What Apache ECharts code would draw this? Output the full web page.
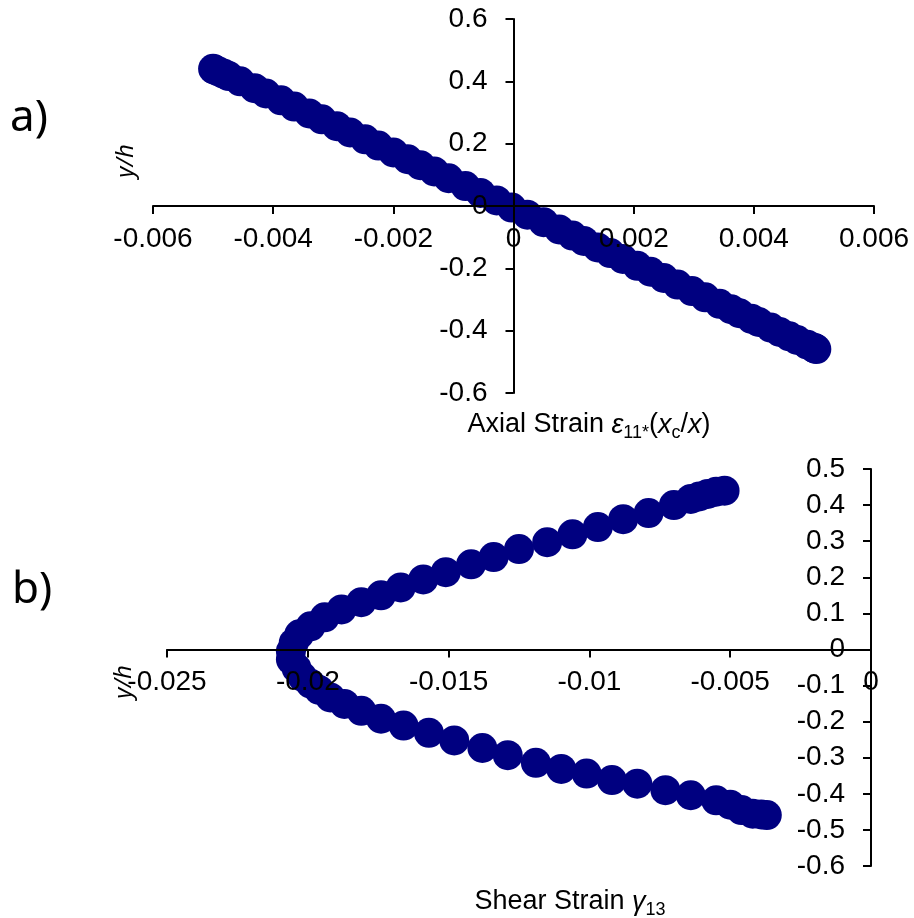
<!DOCTYPE html>
<html>
<head>
<meta charset="utf-8">
<script src="https://cdn.jsdelivr.net/npm/echarts@6/dist/echarts.min.js"></script>
<style>
  html, body { margin: 0; padding: 0; background: #fff; }
  #chart { width: 914px; height: 918px; }
</style>
</head>
<body>
<div id="chart"></div>
<script>
// Normalised through-thickness position y/h, shared by both panels
const yh = [
  0.440, 0.437, 0.431, 0.424, 0.417, 0.400, 0.378, 0.361, 0.339, 0.319,
  0.297, 0.278, 0.256, 0.236, 0.214, 0.194, 0.172, 0.150, 0.131, 0.111,
  0.089, 0.064, 0.042, 0.018, -0.005, -0.028, -0.052, -0.075, -0.095, -0.112,
  -0.133, -0.151, -0.170, -0.192, -0.211, -0.231, -0.252, -0.273, -0.293, -0.314,
  -0.331, -0.344, -0.362, -0.372, -0.390, -0.404, -0.418, -0.430, -0.445, -0.455,
  -0.457, -0.459
];

// Panel a) axial strain eps11 * (xc / x)
const axialStrain = [
  -0.00500, -0.00497, -0.00490, -0.00482, -0.00474, -0.00455, -0.00431, -0.00412, -0.00387, -0.00365,
  -0.00340, -0.00319, -0.00294, -0.00272, -0.00247, -0.00225, -0.00200, -0.00176, -0.00155, -0.00132,
  -0.00108, -0.00080, -0.00055, -0.00028, -0.00003, 0.00023, 0.00050, 0.00076, 0.00098, 0.00117,
  0.00140, 0.00161, 0.00182, 0.00206, 0.00228, 0.00250, 0.00273, 0.00297, 0.00319, 0.00343,
  0.00362, 0.00376, 0.00396, 0.00408, 0.00428, 0.00443, 0.00459, 0.00472, 0.00489, 0.00500,
  0.00502, 0.00504
];

// Panel b) shear strain gamma13
const shearStrain = [
  -0.0052, -0.0055, -0.0058, -0.0061, -0.0064, -0.0070, -0.0079, -0.0088, -0.0097, -0.0106,
  -0.0115, -0.0125, -0.0134, -0.0142, -0.0151, -0.0159, -0.0167, -0.0174, -0.0181, -0.0188,
  -0.0194, -0.0199, -0.0203, -0.0205, -0.0206, -0.0206, -0.0204, -0.0202, -0.0199, -0.0196,
  -0.0192, -0.0187, -0.0181, -0.0174, -0.0166, -0.0157, -0.0148, -0.0138, -0.0129, -0.0119,
  -0.0110, -0.0101, -0.0092, -0.0083, -0.0073, -0.0064, -0.0055, -0.0050, -0.0046, -0.0042,
  -0.0039, -0.0037
];

// Tick labels
const axialTicks = ['-0.006', '-0.004', '-0.002', '0', '0.002', '0.004', '0.006'];
const axialYTicks = ['-0.6', '-0.4', '-0.2', '0', '0.2', '0.4', '0.6'];
const shearTicks = ['-0.025', '-0.02', '-0.015', '-0.01', '-0.005', '0'];
const shearYTicks = ['-0.6', '-0.5', '-0.4', '-0.3', '-0.2', '-0.1', '0', '0.1', '0.2', '0.3', '0.4', '0.5'];

const NAVY = '#000080';
const TICK_FONT = 'Liberation Sans';

// Plot boxes of the two panels
const boxA = { left: 153, top: 19, width: 721, height: 374 };
const boxB = { left: 167, top: 469, width: 704, height: 397 };

// Axes cross at zero: shift each axis inward from the plot edge to the zero line
const axA = { xMin: -0.006, xMax: 0.006, yMin: -0.6, yMax: 0.6 };
const axB = { xMin: -0.025, xMax: 0, yMin: -0.6, yMax: 0.5 };
function zeroOffsets(box, ax) {
  const zy = box.height * (0 - ax.yMin) / (ax.yMax - ax.yMin);
  const zx = box.width * (0 - ax.xMin) / (ax.xMax - ax.xMin);
  return { x: -zy, y: -zx };
}
const offA = zeroOffsets(boxA, axA);
const offB = zeroOffsets(boxB, axB);

function axisCommon(extra) {
  return Object.assign({
    type: 'value',
    z: 3,
    splitLine: { show: false },
    axisLine: { onZero: false, lineStyle: { color: '#000', width: 2 } },
    axisTick: { length: 8, lineStyle: { color: '#000', width: 2 } }
  }, extra);
}

function tickLabel(list, margin) {
  return {
    fontSize: 28,
    color: '#000',
    fontFamily: TICK_FONT,
    margin: margin,
    formatter: (v, i) => list[i]
  };
}

const chart = echarts.init(document.getElementById('chart'));

const subStyle = { fontSize: 18, lineHeight: 18, padding: [16, 0, 0, 0], fontFamily: TICK_FONT, fill: '#000' };
const normStyle = { fontSize: 27, lineHeight: 34, fontFamily: TICK_FONT, fill: '#000' };
const italStyle = { fontSize: 27, lineHeight: 34, fontFamily: TICK_FONT, fontStyle: 'italic', fill: '#000' };

chart.setOption({
  animation: false,
  backgroundColor: '#fff',
  grid: [
    Object.assign({ containLabel: false }, boxA),
    Object.assign({ containLabel: false }, boxB)
  ],
  xAxis: [
    axisCommon({ gridIndex: 0, position: 'bottom', offset: offA.x, min: axA.xMin, max: axA.xMax, interval: 0.002, axisLabel: tickLabel(axialTicks, 19) }),
    axisCommon({ gridIndex: 1, position: 'bottom', offset: offB.x, min: axB.xMin, max: axB.xMax, interval: 0.005, axisLabel: tickLabel(shearTicks, 19) })
  ],
  yAxis: [
    axisCommon({ gridIndex: 0, position: 'left', offset: offA.y, min: axA.yMin, max: axA.yMax, interval: 0.2, axisLabel: tickLabel(axialYTicks, 26) }),
    axisCommon({ gridIndex: 1, position: 'left', offset: offB.y, min: axB.yMin, max: axB.yMax, interval: 0.1, axisLabel: tickLabel(shearYTicks, 26) })
  ],
  series: [
    {
      type: 'scatter',
      xAxisIndex: 0, yAxisIndex: 0,
      symbol: 'circle', symbolSize: 30,
      itemStyle: { color: NAVY, opacity: 1 },
      data: yh.map((y, i) => [axialStrain[i], y])
    },
    {
      type: 'scatter',
      xAxisIndex: 1, yAxisIndex: 1,
      symbol: 'circle', symbolSize: 30,
      itemStyle: { color: NAVY, opacity: 1 },
      data: yh.map((y, i) => [shearStrain[i], y])
    }
  ],
  graphic: [
    { type: 'text', x: 10, y: 118, style: { text: 'a)', fontSize: 44, fontFamily: 'Noto Sans', fill: '#000', verticalAlign: 'middle' } },
    { type: 'text', x: 12, y: 590, style: { text: 'b)', fontSize: 44, fontFamily: 'Noto Sans', fill: '#000', verticalAlign: 'middle' } },
    { type: 'text', x: 126, y: 161, rotation: Math.PI / 2,
      style: { text: 'y/h', fontSize: 24, fontStyle: 'italic', fontFamily: 'Noto Sans', fill: '#000', align: 'center', verticalAlign: 'middle' } },
    { type: 'text', x: 124, y: 682, rotation: Math.PI / 2,
      style: { text: 'y/h', fontSize: 24, fontStyle: 'italic', fontFamily: 'Noto Sans', fill: '#000', align: 'center', verticalAlign: 'middle' } },
    { type: 'text', x: 589, y: 425,
      style: {
        text: '{n|Axial Strain }{i|ε}{s|11*}{n|(}{i|x}{s|c}{n|/}{i|x}{n|)}',
        align: 'center', verticalAlign: 'middle',
        rich: { n: normStyle, i: italStyle, s: subStyle }
      } },
    { type: 'text', x: 570, y: 902,
      style: {
        text: '{n|Shear Strain }{i|γ}{s|13}',
        align: 'center', verticalAlign: 'middle',
        rich: { n: normStyle, i: italStyle, s: subStyle }
      } }
  ]
});
</script>
</body>
</html>
